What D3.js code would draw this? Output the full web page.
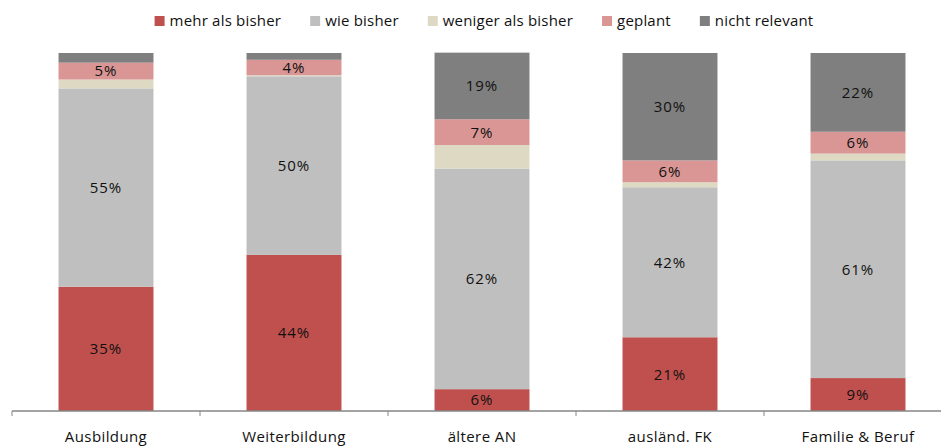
<!DOCTYPE html>
<html>
<head>
<meta charset="utf-8">
<script src="https://cdn.jsdelivr.net/npm/d3@7"></script>
<style>
  body { margin: 0; background: #fff; }
  svg { display: block; font-family: "Open Sans", "DejaVu Sans", sans-serif; }
</style>
</head>
<body>
<svg id="chart" width="941" height="446"></svg>
<script>
// categories (x axis) and series, bottom to top
const categories = ["Ausbildung", "Weiterbildung", "ältere AN", "ausländ. FK", "Familie & Beruf"];
const seriesNames = ["mehr als bisher", "wie bisher", "weniger als bisher", "geplant", "nicht relevant"];
const colors = ["#C0504D", "#BFBFBF", "#DDD9C3", "#D99694", "#7F7F7F"];

// percent values per series, one per category
const mehr = [34.7, 43.6, 6.1, 20.6, 9.2];
const wie = [55.4, 49.9, 61.6, 41.9, 60.8];
const weniger = [2.5, 0.3, 6.6, 1.4, 1.9];
const geplant = [4.7, 4.3, 7.2, 6.1, 6.1];
const nichtRelevant = [2.7, 1.9, 18.6, 30.0, 22.0];

const seriesValues = [mehr, wie, weniger, geplant, nichtRelevant];

const CONFIG = {
  plotTop: 53,
  plotBottom: 411,
  xStart: 12,
  xEnd: 952,
  labelMin: 3.5,
  legendGap: 29
};

const svg = d3.select("#chart");

// build rows for d3.stack
const rows = categories.map((c, i) => {
  const r = { cat: c };
  seriesNames.forEach((s, j) => (r[s] = seriesValues[j][i]));
  return r;
});
const stacked = d3.stack().keys(seriesNames)(rows);

const x = d3.scaleBand().domain(categories).range([CONFIG.xStart, CONFIG.xEnd]).paddingInner(0.495).paddingOuter(0.2475);
const y = d3.scaleLinear().domain([0, 100]).range([CONFIG.plotBottom, CONFIG.plotTop]);

const layers = svg.append("g")
  .selectAll("g")
  .data(stacked)
  .join("g")
  .attr("fill", (d, i) => colors[i]);

layers.selectAll("rect")
  .data(d => d)
  .join("rect")
  .attr("x", d => x(d.data.cat))
  .attr("width", x.bandwidth())
  .attr("y", d => y(d[1]))
  .attr("height", d => y(d[0]) - y(d[1]));

// data labels (the "weniger" series is not labelled)
const fmt = d3.format(".0f");
layers.filter(d => d.key !== "weniger als bisher")
  .selectAll("text")
  .data(d => d.filter(p => p[1] - p[0] >= CONFIG.labelMin))
  .join("text")
  .attr("x", d => x(d.data.cat) + x.bandwidth() / 2)
  .attr("y", d => (y(d[0]) + y(d[1])) / 2)
  .attr("dy", "0.36em")
  .attr("text-anchor", "middle")
  .attr("fill", "#111")
  .style("font-size", "15px")
  .style("letter-spacing", "0.9px")
  .text(d => fmt(d[1] - d[0]) + "%");

// x axis with ticks between categories
const axisG = svg.append("g").attr("transform", `translate(0,${CONFIG.plotBottom})`);
axisG.append("line")
  .attr("x1", CONFIG.xStart).attr("x2", CONFIG.xEnd)
  .attr("stroke", "#868686").attr("stroke-width", 1.3);
const step = x.step();
axisG.selectAll(".tick")
  .data(d3.range(categories.length + 1))
  .join("line")
  .attr("class", "tick")
  .attr("x1", i => CONFIG.xStart + i * step)
  .attr("x2", i => CONFIG.xStart + i * step)
  .attr("y1", 0).attr("y2", 5)
  .attr("stroke", "#868686");
axisG.selectAll(".cat")
  .data(categories)
  .join("text")
  .attr("class", "cat")
  .attr("x", d => x(d) + x.bandwidth() / 2)
  .attr("y", 31)
  .attr("text-anchor", "middle")
  .attr("fill", "#111")
  .style("font-size", "15px")
  .style("letter-spacing", "0.4px")
  .text(d => d);

// legend, centered above the chart
const legend = svg.append("g");
const items = legend.selectAll("g")
  .data(seriesNames)
  .join("g");
items.append("rect")
  .attr("y", 16).attr("width", 10).attr("height", 10)
  .attr("fill", (d, i) => colors[i]);
items.append("text")
  .attr("x", 15).attr("y", 26)
  .attr("fill", "#111")
  .style("font-size", "15px")
  .style("letter-spacing", "0.2px")
  .text(d => d);
let cx = 0;
items.each(function () {
  d3.select(this).attr("transform", `translate(${cx},0)`);
  cx += 15 + this.querySelector("text").getComputedTextLength() + CONFIG.legendGap;
});
const legendWidth = cx - CONFIG.legendGap;
legend.attr("transform", `translate(${484 - legendWidth / 2},0)`);
</script>
</body>
</html>
